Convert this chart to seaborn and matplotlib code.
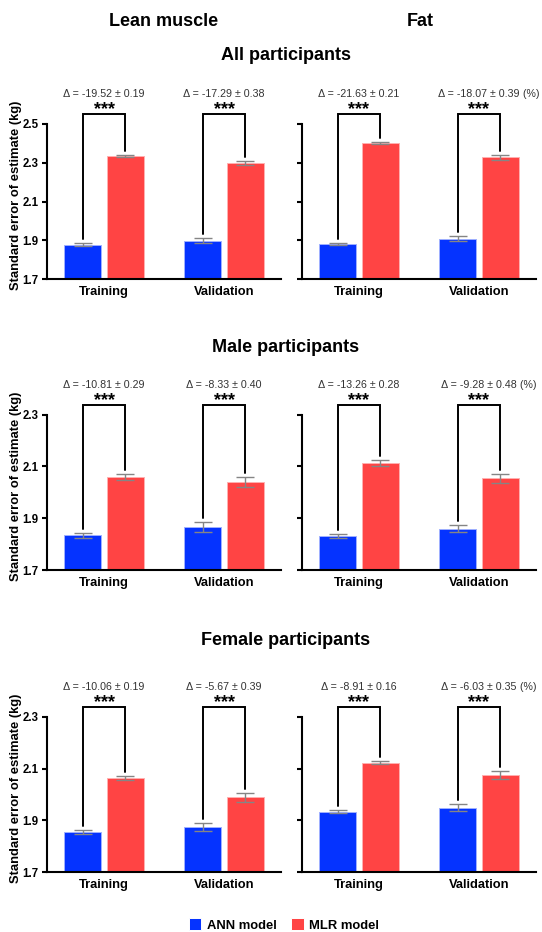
import matplotlib
matplotlib.use("Agg")
import matplotlib.pyplot as plt
import pandas as pd
import seaborn as sns

# ---- categories -------------------------------------------------------------
datasets = ["Training", "Validation"]
models = ["ANN model", "MLR model"]
tissues = ["Lean muscle", "Fat"]
cohorts = ["All participants", "Male participants", "Female participants"]

# ---- standard error of estimate (kg): [Training, Validation] ------------------
all_lean_ann = [1.879, 1.898]
all_lean_mlr = [2.336, 2.297]
all_lean_ann_err = [0.006, 0.012]
all_lean_mlr_err = [0.005, 0.011]
all_lean_delta = ["-19.52 \u00b1 0.19", "-17.29 \u00b1 0.38"]

all_fat_ann = [1.880, 1.908]
all_fat_mlr = [2.400, 2.328]
all_fat_ann_err = [0.006, 0.013]
all_fat_mlr_err = [0.005, 0.012]
all_fat_delta = ["-21.63 \u00b1 0.21", "-18.07 \u00b1 0.39"]

male_lean_ann = [1.834, 1.866]
male_lean_mlr = [2.059, 2.039]
male_lean_ann_err = [0.009, 0.018]
male_lean_mlr_err = [0.010, 0.020]
male_lean_delta = ["-10.81 \u00b1 0.29", "-8.33 \u00b1 0.40"]

male_fat_ann = [1.830, 1.860]
male_fat_mlr = [2.113, 2.054]
male_fat_ann_err = [0.008, 0.015]
male_fat_mlr_err = [0.010, 0.017]
male_fat_delta = ["-13.26 \u00b1 0.28", "-9.28 \u00b1 0.48"]

female_lean_ann = [1.855, 1.875]
female_lean_mlr = [2.065, 1.989]
female_lean_ann_err = [0.007, 0.016]
female_lean_mlr_err = [0.008, 0.018]
female_lean_delta = ["-10.06 \u00b1 0.19", "-5.67 \u00b1 0.39"]

female_fat_ann = [1.934, 1.949]
female_fat_mlr = [2.123, 2.075]
female_fat_ann_err = [0.006, 0.013]
female_fat_mlr_err = [0.006, 0.014]
female_fat_delta = ["-8.91 \u00b1 0.16", "-6.03 \u00b1 0.35"]

y_ticks_all = [1.7, 1.9, 2.1, 2.3, 2.5]
y_ticks_sex = [1.7, 1.9, 2.1, 2.3]
significance = "***"

panels = [
    [(all_lean_ann, all_lean_mlr, all_lean_ann_err, all_lean_mlr_err, all_lean_delta),
     (all_fat_ann, all_fat_mlr, all_fat_ann_err, all_fat_mlr_err, all_fat_delta)],
    [(male_lean_ann, male_lean_mlr, male_lean_ann_err, male_lean_mlr_err, male_lean_delta),
     (male_fat_ann, male_fat_mlr, male_fat_ann_err, male_fat_mlr_err, male_fat_delta)],
    [(female_lean_ann, female_lean_mlr, female_lean_ann_err, female_lean_mlr_err, female_lean_delta),
     (female_fat_ann, female_fat_mlr, female_fat_ann_err, female_fat_mlr_err, female_fat_delta)],
]
row_ticks = [y_ticks_all, y_ticks_sex, y_ticks_sex]

# ---- style ------------------------------------------------------------------
sns.set_style("ticks")
plt.rcParams["font.family"] = ["Liberation Sans", "DejaVu Sans"]
for key in ("text.color", "axes.labelcolor", "xtick.color", "ytick.color"):
    plt.rcParams[key] = "black"
palette = {"ANN model": "#0533ff", "MLR model": "#ff4444"}
edge_colors = {"ANN model": "#9fb0ff", "MLR model": "#ffb0b0"}

W, H = 542, 932
fig = plt.figure(figsize=(W / 100, H / 100), dpi=100)

col_left = [47 / W, 302 / W]
col_width = 234 / W
row_bottom = [1 - 279.3 / H, 1 - 570 / H, 1 - 872.3 / H]
row_height = 155.5 / H

legend_handles = None
for r in range(3):
    for c in range(2):
        ann, mlr, ann_err, mlr_err, deltas = panels[r][c]
        ax = fig.add_axes([col_left[c], row_bottom[r], col_width, row_height])
        df = pd.DataFrame({
            "dataset": datasets * 2,
            "model": [m for m in models for _ in datasets],
            "see": list(ann) + list(mlr),
        })
        sns.barplot(data=df, x="dataset", y="see", hue="model", order=datasets,
                    hue_order=models, palette=palette, saturation=1,
                    width=0.71, gap=0.143, errorbar=None, linewidth=0.7,
                    legend=(r == 0 and c == 0), ax=ax, zorder=2)
        for cont, m in zip(ax.containers, models):
            for p in cont:
                p.set_edgecolor(edge_colors[m])

        ticks = row_ticks[r]
        ymin, ymax = ticks[0], ticks[-1]
        rng = ymax - ymin
        ax.set_ylim(ymin, ymax)
        ax.set_xlim(-0.475, 1.475)

        # error bars centred on each bar
        centers = []
        for cont, vals, errs in zip(ax.containers, [ann, mlr], [ann_err, mlr_err]):
            xs = [p.get_x() + p.get_width() / 2 for p in cont]
            centers.append(xs)
            ax.errorbar(xs, vals, yerr=errs, fmt="none", ecolor="#858585",
                        elinewidth=1.0, capsize=6.5, capthick=1.0, zorder=3)

        # significance brackets
        y_top = ymax + 0.061 * rng
        for i in range(len(datasets)):
            x0, x1 = centers[0][i], centers[1][i]
            y0 = ann[i] + ann_err[i] + 0.026 * rng
            y1 = mlr[i] + mlr_err[i] + 0.026 * rng
            ax.plot([x0, x0, x1, x1], [y0, y_top, y_top, y1], color="black",
                    lw=1.4, clip_on=False, solid_joinstyle="miter", zorder=4)
            xm = (x0 + x1) / 2
            ax.annotate(significance, xy=(xm, y_top), xytext=(0, 0),
                        textcoords="offset points", ha="center", va="baseline",
                        fontsize=13, fontweight="bold", annotation_clip=False)
            t = ax.annotate("\u0394 = " + deltas[i], xy=(xm, y_top), xytext=(0, 12.6),
                            textcoords="offset points", ha="center", va="baseline",
                            fontsize=7.7, color="#333333", annotation_clip=False)
            if c == 1 and i == 1:
                ax.annotate(" (%)", xy=(1, 0), xycoords=t, ha="left", va="bottom",
                            fontsize=7.7, color="#333333", annotation_clip=False)

        sns.despine(ax=ax)
        for s in ("left", "bottom"):
            ax.spines[s].set_linewidth(1.5)
            ax.spines[s].set_color("black")
        ax.set_yticks(ticks)
        ax.set_yticklabels([f"{v:.1f}" for v in ticks], fontweight="bold")
        ax.tick_params(axis="y", direction="out", length=3.5, width=1.5,
                       pad=2.5, labelsize=8.3, colors="black")
        ax.tick_params(axis="x", length=0, pad=5, labelsize=9.3, colors="black")
        for lbl in ax.get_xticklabels():
            lbl.set_fontweight("bold")
        ax.set_xlabel("")
        if c == 0:
            ax.set_ylabel("Standard error of estimate (kg)", fontsize=9.4,
                          fontweight="bold", color="black")
            ax.yaxis.set_label_coords(-0.105, 0.54)
        else:
            ax.set_ylabel("")
            ax.tick_params(axis="y", labelleft=False)

        if ax.get_legend() is not None:
            leg = ax.get_legend()
            legend_handles = (leg.legend_handles, [t.get_text() for t in leg.texts])
            leg.remove()

# ---- titles -------------------------------------------------------------------
fig.text(164 / W, 1 - 26.5 / H, tissues[0], ha="center", va="baseline",
         fontsize=13, fontweight="bold", color="black")
fig.text(420 / W, 1 - 26.5 / H, tissues[1], ha="center", va="baseline",
         fontsize=13, fontweight="bold", color="black")
for name, base in zip(cohorts, [59.7, 352, 645]):
    fig.text(286 / W, 1 - base / H, name, ha="center", va="baseline",
             fontsize=13, fontweight="bold", color="black")

# ---- shared legend --------------------------------------------------------------
handles, labels = legend_handles
fig.legend(handles, labels, loc="center", bbox_to_anchor=(284 / W, 1 - 925 / H),
           ncol=2, frameon=False, handlelength=0.95, handleheight=0.95,
           handletextpad=0.4, columnspacing=1.15, borderpad=0, borderaxespad=0,
           prop={"weight": "bold", "size": 9.4}, labelcolor="black")

fig.savefig("out.png", dpi=100)
